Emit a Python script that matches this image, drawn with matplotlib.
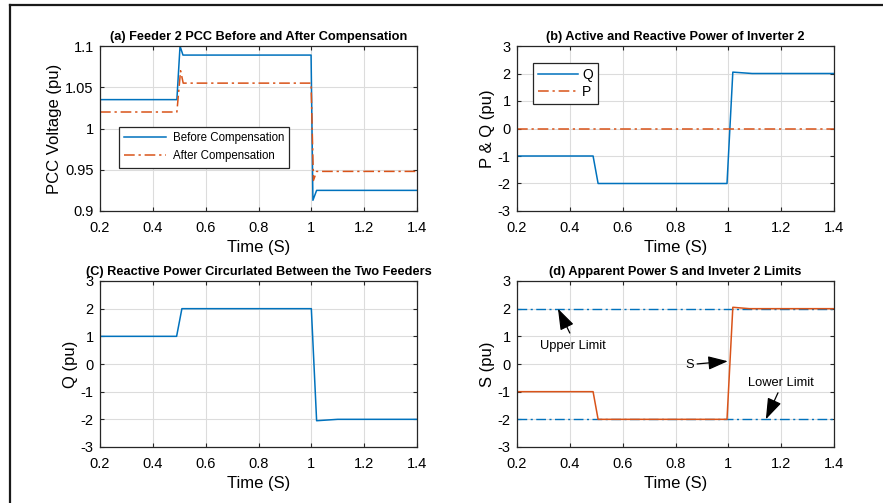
import matplotlib
matplotlib.use("Agg")
import matplotlib.pyplot as plt
from matplotlib.lines import Line2D

plt.rcParams["font.family"] = ["Liberation Sans", "DejaVu Sans"]

BLUE = "#0072BD"
ORANGE = "#D95319"
DASHDOT = (7, 2.5, 1.5, 2.5)

# (a) PCC voltage of feeder 2
t_before = [0.2, 0.491, 0.503, 0.514, 0.999, 1.006, 1.02, 1.4]
v_before = [1.035, 1.035, 1.1, 1.089, 1.089, 0.913, 0.925, 0.925]
t_after = [0.2, 0.491, 0.505, 0.515, 0.999, 1.008, 1.02, 1.4]
v_after = [1.02, 1.02, 1.07, 1.055, 1.055, 0.937, 0.948, 0.948]

# (b) inverter 2 powers
t_q = [0.2, 0.488, 0.507, 0.995, 1.017, 1.09, 1.4]
q_inv = [-1, -1, -2, -2, 2.05, 2.0, 2.0]
t_p = [0.2, 1.4]
p_inv = [0, 0]

# (c) reactive power circulated
t_circ = [0.2, 0.49, 0.51, 1.0, 1.02, 1.1, 1.4]
q_circ = [1, 1, 2, 2, -2.05, -2.0, -2.0]

# (d) apparent power and limits
t_s = [0.2, 0.488, 0.507, 0.995, 1.017, 1.08, 1.4]
s_inv = [-1, -1, -2, -2, 2.05, 2.0, 2.0]
upper_limit = [2, 2]
lower_limit = [-2, -2]

xticks = [0.2, 0.4, 0.6, 0.8, 1.0, 1.2, 1.4]
xticklabels = ["0.2", "0.4", "0.6", "0.8", "1", "1.2", "1.4"]


def style(ax, title, ylabel, ylim, yticks, yticklabels):
    ax.set_xlim(0.2, 1.4)
    ax.set_ylim(*ylim)
    ax.set_xticks(xticks, xticklabels)
    ax.set_yticks(yticks, yticklabels)
    ax.tick_params(direction="in", top=True, right=True, length=3,
                   labelsize=10.5, color="#262626")
    ax.tick_params(axis="x", pad=7.5)
    ax.tick_params(axis="y", pad=4.5)
    ax.grid(True, color="#dcdcdc", linewidth=0.8)
    ax.set_axisbelow(True)
    for sp in ax.spines.values():
        sp.set_color("#262626")
        sp.set_linewidth(0.9)
    ax.set_title(title, fontsize=9.2, fontweight="bold", pad=4)
    ax.set_xlabel("Time (S)", fontsize=12, labelpad=3)
    ax.set_ylabel(ylabel, fontsize=12, labelpad=2)


fig = plt.figure(figsize=(8.83, 5.03), dpi=100)
W, H = 883, 503


def box(l, t, r, b):
    return [l / W, 1 - b / H, (r - l) / W, (b - t) / H]


ax_a = fig.add_axes(box(100, 46, 417, 211))
ax_b = fig.add_axes(box(517, 46, 834, 211))
ax_c = fig.add_axes(box(100, 281, 417, 447))
ax_d = fig.add_axes(box(517, 281, 834, 447))

pq_ticks = [-3, -2, -1, 0, 1, 2, 3]
pq_labels = ["-3", "-2", "-1", "0", "1", "2", "3"]

# (a)
ax_a.plot(t_before, v_before, color=BLUE, lw=1.1, label="Before Compensation")
ax_a.plot(t_after, v_after, color=ORANGE, lw=1.1, dashes=DASHDOT,
          label="After Compensation")
style(ax_a, "(a) Feeder 2 PCC Before and After Compensation", "PCC Voltage (pu)",
      (0.9, 1.1), [0.9, 0.95, 1.0, 1.05, 1.1], ["0.9", "0.95", "1", "1.05", "1.1"])
leg = ax_a.legend(loc="upper left", bbox_to_anchor=(0.06, 0.51), fontsize=8.3,
                  fancybox=False, framealpha=1, edgecolor="#262626",
                  handlelength=3.6, borderpad=0.45, labelspacing=0.55,
                  borderaxespad=0, handletextpad=0.6)
leg.get_frame().set_linewidth(0.9)

# (b)
ax_b.plot(t_q, q_inv, color=BLUE, lw=1.1, label="Q")
ax_b.plot(t_p, p_inv, color=ORANGE, lw=1.1, dashes=DASHDOT, label="P")
style(ax_b, "(b) Active and Reactive Power of Inverter 2", "P & Q (pu)",
      (-3, 3), pq_ticks, pq_labels)
leg = ax_b.legend(loc="upper left", bbox_to_anchor=(0.05, 0.897), fontsize=10,
                  fancybox=False, framealpha=1, edgecolor="#262626",
                  handlelength=2.9, borderpad=0.35, labelspacing=0.25,
                  handletextpad=0.3, borderaxespad=0)
leg.get_frame().set_linewidth(0.9)

# (c)
ax_c.plot(t_circ, q_circ, color=BLUE, lw=1.1)
style(ax_c, "(C) Reactive Power Circurlated Between the Two Feeders", "Q (pu)",
      (-3, 3), pq_ticks, pq_labels)

# (d)
ax_d.plot(t_p, upper_limit, color=BLUE, lw=1.0, dashes=DASHDOT)
ax_d.plot(t_p, lower_limit, color=BLUE, lw=1.0, dashes=DASHDOT)
ax_d.plot(t_s, s_inv, color=ORANGE, lw=1.1)
style(ax_d, "(d) Apparent Power S and Inveter 2 Limits", "S (pu)",
      (-3, 3), pq_ticks, pq_labels)
arrow = dict(arrowstyle="-|>,head_length=1.3,head_width=0.45", color="black",
             lw=0.9, shrinkA=0, shrinkB=0)
ax_d.annotate("", xy=(0.355, 2.0), xytext=(0.40, 1.12), arrowprops=arrow)
ax_d.text(0.41, 0.65, "Upper Limit", fontsize=9.3, ha="center", va="center")
ax_d.annotate("S", xy=(0.998, 0.1), xytext=(0.855, -0.02), fontsize=9.3,
              ha="center", va="center", arrowprops=arrow)
ax_d.text(1.2, -0.68, "Lower Limit", fontsize=9.3, ha="center", va="center")
ax_d.annotate("", xy=(1.142, -2.0), xytext=(1.188, -1.04), arrowprops=arrow)

# outer frame
fig.add_artist(Line2D([10 / W, 1], [1 - 5 / H] * 2, color="#1a1a1a", lw=1.6))
fig.add_artist(Line2D([10 / W] * 2, [0, 1 - 5 / H], color="#1a1a1a", lw=1.6))

fig.savefig("out.png", dpi=100)
